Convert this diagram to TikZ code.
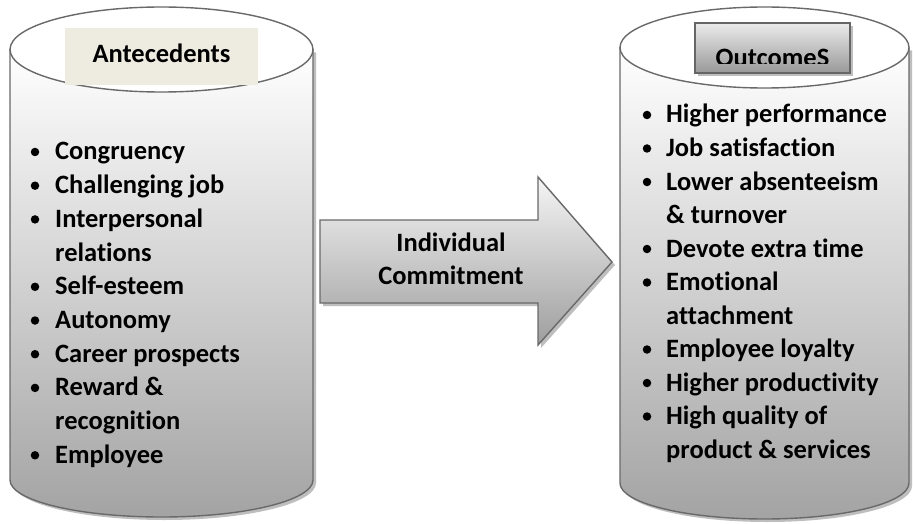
\documentclass[tikz,border=0pt]{standalone}
\usepackage{fontspec}
\setmainfont{Carlito}[Ligatures={NoCommon}]
\usetikzlibrary{shadings}
\definecolor{edge}{RGB}{105,105,105}
\definecolor{shadowc}{RGB}{190,190,190}
\definecolor{beige}{RGB}{238,236,225}
\newcommand{\listfont}{\fontsize{26.5}{30}\selectfont\bfseries}
\tikzset{
  item/.style={anchor=base west, inner sep=0pt, font=\listfont},
  bul/.style={circle, fill=black, inner sep=0pt, minimum size=8.5pt},
  cylbody/.style={draw=edge, line width=1.4pt, top color=white, bottom color=black!36},
  shad/.style={fill=shadowc},
  titletext/.style={inner sep=0pt, font=\listfont},
}
\begin{document}
\begin{tikzpicture}[x=1pt,y=-1pt]
\useasboundingbox (0,0) rectangle (913,524);
\fill[white] (0,0) rectangle (913,524);

% ---------- left cylinder ----------
\fill[shad, xshift=3pt, yshift=-3pt] (10,49.5) -- (10,480) arc[start angle=180,end angle=360,x radius=151.5pt,y radius=37pt] -- (313,49.5) -- cycle;
\path[cylbody] (10,49.5) -- (10,480) arc[start angle=180,end angle=360,x radius=151.5pt,y radius=37pt] -- (313,49.5) -- cycle;
\draw[edge, line width=1.4pt, fill=white] (161.5,49.5) ellipse[x radius=151.5pt, y radius=42.5pt];
\fill[beige] (65,28) rectangle (258,85);
\node[titletext, anchor=base] (ante) at (161.5,63) {Antecedents};

% ---------- right cylinder ----------
\fill[shad, xshift=3pt, yshift=-3pt] (620,47.5) -- (620,483) arc[start angle=180,end angle=360,x radius=144.5pt,y radius=36pt] -- (909,47.5) -- cycle;
\path[cylbody] (620,47.5) -- (620,483) arc[start angle=180,end angle=360,x radius=144.5pt,y radius=36pt] -- (909,47.5) -- cycle;
\draw[edge, line width=1.4pt, fill=white] (764.5,47.5) ellipse[x radius=144.5pt, y radius=40.5pt];
\fill[shadowc] (698,26) rectangle (853,76);
\path[draw=gray!80!black, line width=1.2pt, top color=black!8, bottom color=black!40] (695,23) rectangle (850,73);
\begin{scope}
\clip (695,23) rectangle (850,63.5);
\node[titletext, anchor=base] (outc) at (772.5,67) {OutcomeS};
\end{scope}

% ---------- arrow ----------
\fill[shad, xshift=3pt, yshift=-3pt] (320,220) -- (538,220) -- (538,177) -- (612,262) -- (538,345) -- (538,303) -- (320,303) -- cycle;
\path[draw=edge, line width=1.4pt, top color=black!4, bottom color=black!38]
  (320,220) -- (538,220) -- (538,177) -- (612,262) -- (538,345) -- (538,303) -- (320,303) -- cycle;
\node[titletext, anchor=base] (ind) at (451,251) {Individual};
\node[titletext, anchor=base] (com) at (451,284) {Commitment};

% ---------- left list ----------
\foreach \txt/\b [count=\i from 0] in {Congruency/1, Challenging job/1, Interpersonal/1, relations/0, Self-esteem/1, Autonomy/1, Career prospects/1, Reward \&/1, recognition/0, Employee/1} {
  \node[item] (L\i) at (55,{160+33.7*\i}) {\txt};
  \ifnum\b=1 \node[bul] (LB\i) at (35,{152+33.7*\i}) {}; \fi
}

% ---------- right list ----------
\foreach \txt/\b [count=\i from 0] in {Higher performance/1, Job satisfaction/1, Lower absenteeism/1, \& turnover/0, Devote extra time/1, Emotional/1, attachment/0, Employee loyalty/1, Higher productivity/1, High quality of/1, product \& services/0} {
  \node[item] (R\i) at (666,{123+33.5*\i}) {\txt};
  \ifnum\b=1 \node[bul] (RB\i) at (647,{115+33.5*\i}) {}; \fi
}
\end{tikzpicture}
\end{document}
